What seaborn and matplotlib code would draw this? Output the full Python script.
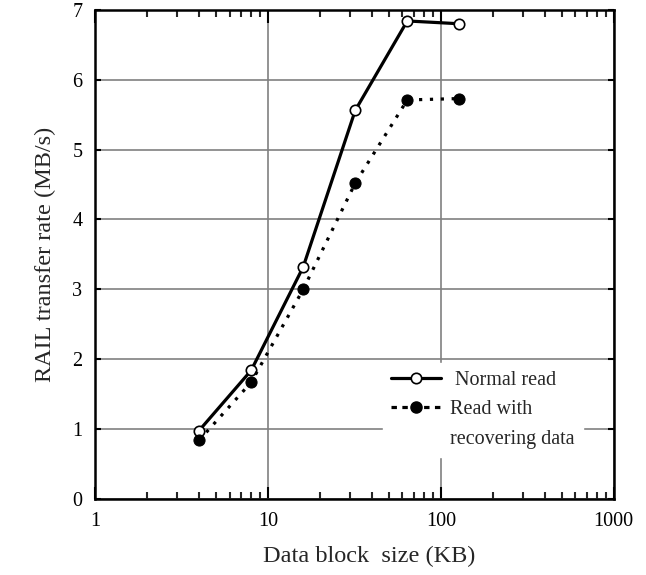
import matplotlib
matplotlib.use("Agg")
import matplotlib.pyplot as plt
import matplotlib.ticker as mticker
from matplotlib.lines import Line2D
import seaborn as sns
import pandas as pd
import numpy as np

block_size = [4, 8, 16, 32, 64, 128]
normal_read = [0.98, 1.84, 3.32, 5.56, 6.84, 6.80]
recovering_read = [0.84, 1.67, 3.00, 4.52, 5.71, 5.73]
series_names = ["Normal read", "Read with recovering data"]
legend_labels = [" Normal read", "Read with", "recovering data"]
x_ticks = [1, 10, 100, 1000]
y_ticks = [0, 1, 2, 3, 4, 5, 6, 7]

df = pd.DataFrame({
    "size": block_size * 2,
    "rate": normal_read + recovering_read,
    "series": [series_names[0]] * len(block_size) + [series_names[1]] * len(block_size),
})

sns.set_style("ticks")
plt.rcParams["font.family"] = ["Liberation Serif", "DejaVu Serif"]

fig = plt.figure(figsize=(6.46, 5.75), dpi=100)
ax = fig.add_axes([0.147, 0.132, 0.803, 0.851])

sns.lineplot(data=df, x="size", y="rate", hue="series", style="series",
             palette=["black", "black"],
             dashes={series_names[0]: "", series_names[1]: (1, 2.4)},
             markers={series_names[0]: "o", series_names[1]: "o"},
             markersize=7.5, linewidth=2.3, ax=ax, legend=False, zorder=3)

lines = ax.get_lines()
lines[0].set_markerfacecolor("white")
lines[0].set_markeredgecolor("black")
lines[0].set_markeredgewidth(1.2)
lines[1].set_markerfacecolor("black")
lines[1].set_markeredgecolor("black")
lines[1].set_markersize(8)

ax.set_xscale("log")
ax.set_xlim(1, 1000)
ax.set_ylim(0, 7)
ax.set_xticks(x_ticks)
ax.xaxis.set_major_formatter(mticker.FuncFormatter(lambda v, p: f"{int(v)}"))
ax.xaxis.set_minor_locator(mticker.LogLocator(base=10, subs=np.arange(2, 10)))
ax.xaxis.set_minor_formatter(mticker.NullFormatter())
ax.set_yticks(y_ticks)

ax.grid(True, which="major", color="#808080", linewidth=1.2, zorder=0)
ax.set_axisbelow(True)

for s in ax.spines.values():
    s.set_visible(True)
    s.set_linewidth(1.8)
    s.set_color("black")

ax.tick_params(axis="both", which="major", direction="in", length=9, width=1.5,
               top=True, right=True, labelsize=14.5, colors="black", pad=9)
ax.tick_params(axis="y", which="major", length=4)
ax.tick_params(axis="x", which="minor", direction="in", length=5, width=1.5,
               top=True, bottom=True)

ax.set_xlabel("Data block  size (KB)", fontsize=17.5)
ax.set_ylabel("RAIL transfer rate (MB/s)", fontsize=17.5, labelpad=12)
ax.xaxis.set_label_coords(0.528, -0.095)

h1 = Line2D([], [], color="black", linewidth=2.3, marker="o", markersize=7.5,
            markerfacecolor="white", markeredgecolor="black", markeredgewidth=1.2)
h2 = Line2D([], [], color="black", linewidth=2.3, linestyle=(0, (1.7, 1.7)), marker="o",
            markersize=8, markerfacecolor="black")
h3 = Line2D([], [], color="none", linewidth=0)
leg = ax.legend([h1, h2, h3], legend_labels,
                loc="upper left", bbox_to_anchor=(0.555, 0.278),
                frameon=True, fancybox=False, framealpha=1, edgecolor="white",
                facecolor="white", fontsize=14.5, handlelength=2.5, handletextpad=0.45,
                labelspacing=0.5, borderpad=0.4, borderaxespad=0)
leg.set_zorder(5)

fig.savefig("out.png", dpi=100)
